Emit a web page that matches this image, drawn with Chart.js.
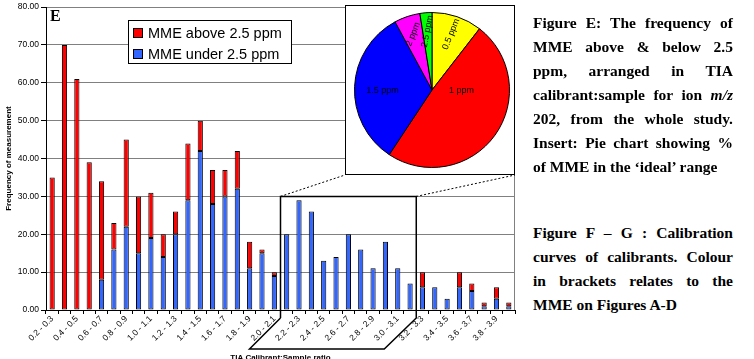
<!DOCTYPE html>
<html>
<head>
<meta charset="utf-8">
<script src="https://cdn.jsdelivr.net/npm/chart.js@4/dist/chart.umd.min.js"></script>
<style>
  body { margin: 0; background: #fff; overflow: hidden; }
  #wrap { position: relative; width: 754px; height: 359px; overflow: hidden; }
  #barChart { position: absolute; left: 0; top: 0; }
  #pieBox { position: absolute; left: 345px; top: 5px; width: 168px; height: 168px;
            border: 1.5px solid #000; background: #fff; }
  #legend { position: absolute; left: 128px; top: 20px; width: 162px; height: 42px;
            border: 1px solid #000; background: #fff; font: 14.5px "Liberation Sans", Arial, sans-serif; }
  .item { position: absolute; left: 4px; height: 20px; line-height: 20px; white-space: nowrap; }
  .item span { display: inline-block; width: 8px; height: 8px; border: 1px solid #000;
               margin-right: 5px; vertical-align: 0px; }
  #letter { position: absolute; left: 50px; top: 7px; font: bold 16px "Liberation Serif", serif; }
  .caption { position: absolute; left: 533px; width: 200px; font: bold 15.5px/24px "Liberation Serif", serif;
             text-align: justify; text-align-last: left; color: #000; }
</style>
</head>
<body>
<div id="wrap">
  <canvas id="barChart" width="520" height="363"></canvas>
  <div id="letter">E</div>
  <div id="legend"></div>
  <div id="pieBox"><canvas id="pieChart" width="168" height="168"></canvas></div>
  <div class="caption" style="top:11px;">Figure E: The frequency of MME above &amp; below 2.5 ppm, arranged in TIA calibrant:sample for ion <i>m/z</i> 202, from the whole study. Insert: Pie chart showing % of MME in the ‘ideal’ range</div>
  <div class="caption" style="top:221px;">Figure F – G : Calibration curves of calibrants. Colour in brackets relates to the MME on Figures A-D</div>
</div>
<script>
const ratios = [
  "0.2 - 0.3", "0.3 - 0.4", "0.4 - 0.5", "0.5 - 0.6", "0.6 - 0.7", "0.7 - 0.8", "0.8 - 0.9", "0.9 - 1.0",
  "1.0 - 1.1", "1.1 - 1.2", "1.2 - 1.3", "1.3 - 1.4", "1.4 - 1.5", "1.5 - 1.6", "1.6 - 1.7", "1.7 - 1.8",
  "1.8 - 1.9", "1.9 - 2.0", "2.0 - 2.1", "2.1 - 2.2", "2.2 - 2.3", "2.3 - 2.4", "2.4 - 2.5", "2.5 - 2.6",
  "2.6 - 2.7", "2.7 - 2.8", "2.8 - 2.9", "2.9 - 3.0", "3.0 - 3.1", "3.1 - 3.2", "3.2 - 3.3", "3.3 - 3.4",
  "3.4 - 3.5", "3.5 - 3.6", "3.6 - 3.7", "3.7 - 3.8", "3.8 - 3.9", "3.9 - 4.0"
];
const underValues = [0, 0, 0, 0, 8, 16, 22, 15, 19, 14, 20, 29, 42, 28, 30, 32, 11, 15, 9, 20,
  29, 26, 13, 14, 20, 16, 11, 18, 11, 7, 6, 6, 3, 6, 5, 1, 3, 1];
const aboveValues = [35, 70, 61, 39, 26, 7, 23, 15, 12, 6, 6, 15, 8, 9, 7, 10, 7, 1, 1, 0,
  0, 0, 0, 0, 0, 0, 0, 0, 0, 0, 4, 0, 0, 4, 2, 1, 3, 1];
const yTicks = [0, 10, 20, 30, 40, 50, 60, 70, 80];

// highlighted range that the pie insert refers to
const zoomFrom = "2.1 - 2.2";
const zoomTo = "3.1 - 3.2";
const zoomTop = 30;

const pieLabels = ["0.5 ppm", "1 ppm", "1.5 ppm", "2 ppm", "2.5 ppm"];
const pieValues = [10.5, 48.8, 32.8, 5.4, 2.5];
const pieColors = ["#ffff00", "#ff0000", "#0000ff", "#ff00ff", "#00ff00"];

// legend
const legendItems = [
  { label: "MME above 2.5 ppm", color: "#ff0000" },
  { label: "MME under 2.5 ppm", color: "#3366ff" },
];
document.getElementById("legend").innerHTML = legendItems.map((it, i) =>
  `<div class="item" style="top:${2 + i * 21}px"><span style="background:${it.color}"></span>${it.label}</div>`
).join("");

const boxPlugin = {
  id: "zoomBox",
  afterDatasetsDraw(chart) {
    const ctx = chart.ctx, x = chart.scales.x, y = chart.scales.y, area = chart.chartArea;
    // plot border right
    ctx.save();
    ctx.strokeStyle = "#808080";
    ctx.lineWidth = 1;
    ctx.beginPath();
    ctx.moveTo(area.right - 0.5, area.top);
    ctx.lineTo(area.right - 0.5, area.bottom);
    ctx.stroke();

    const l = x.getPixelForValue(ratios.indexOf(zoomFrom) - 0.5);
    const r = x.getPixelForValue(ratios.indexOf(zoomTo) + 0.5);
    const t = y.getPixelForValue(zoomTop);
    const b = area.bottom + 8;
    const b2 = area.bottom + 39;
    ctx.strokeStyle = "#000";
    ctx.lineWidth = 1.5;
    ctx.beginPath();
    ctx.moveTo(l, b);
    ctx.lineTo(l, t);
    ctx.lineTo(r, t);
    ctx.lineTo(r, b);
    ctx.lineTo(r - 32, b2);
    ctx.lineTo(l - 31, b2);
    ctx.lineTo(l, b);
    ctx.stroke();

    // dotted connectors to the pie insert
    const pb = document.getElementById("pieBox");
    const pl = pb.offsetLeft, pr = pb.offsetLeft + pb.offsetWidth, pbt = pb.offsetTop + pb.offsetHeight;
    ctx.setLineDash([2, 2]);
    ctx.lineWidth = 1;
    ctx.beginPath();
    ctx.moveTo(l, t);
    ctx.lineTo(pl, pbt);
    ctx.moveTo(r, t);
    ctx.lineTo(pr, pbt);
    ctx.stroke();
    ctx.restore();
  },
};

new Chart(document.getElementById("barChart"), {
  type: "bar",
  data: {
    labels: ratios,
    datasets: [
      {
        label: "MME under 2.5 ppm",
        data: underValues,
        backgroundColor: "#3366ff",
        borderColor: "#000",
        borderWidth: 1,
        borderSkipped: false,
        barPercentage: 0.42,
        categoryPercentage: 1,
      },
      {
        label: "MME above 2.5 ppm",
        data: aboveValues,
        backgroundColor: "#ff0000",
        borderColor: "#000",
        borderWidth: 1,
        borderSkipped: false,
        barPercentage: 0.42,
        categoryPercentage: 1,
      },
    ],
  },
  options: {
    responsive: false,
    animation: false,
    layout: { padding: { top: 6, right: 5, left: 0, bottom: 0 } },
    plugins: { legend: { display: false }, tooltip: { enabled: false } },
    scales: {
      x: {
        stacked: true,
        afterFit: (s) => { s.height = 53; },
        grid: { drawOnChartArea: false, offset: true, tickLength: 4, tickColor: "#000" },
        border: { color: "#000", width: 1 },
        ticks: {
          autoSkip: false,
          maxRotation: 45,
          minRotation: 45,
          padding: 0,
          color: "#000",
          font: { family: "Liberation Sans", size: 8.5 },
          callback: (v, i) => (i % 2 === 0 ? ratios[i] : ""),
        },
        title: {
          display: true,
          text: "TIA Calibrant:Sample ratio",
          color: "#000",
          padding: { top: 0, bottom: 0 },
          font: { family: "Liberation Sans", size: 8, weight: "bold" },
        },
      },
      y: {
        stacked: true,
        min: 0,
        max: 80,
        afterFit: (s) => { s.width = 46; },
        afterBuildTicks: (s) => { s.ticks = yTicks.map((v) => ({ value: v })); },
        grid: { color: "#808080", tickLength: 5, tickColor: "#000" },
        border: { color: "#000", width: 1 },
        ticks: {
          padding: 2,
          color: "#000",
          font: { family: "Liberation Sans", size: 8.5 },
          callback: (v) => v.toFixed(2),
        },
        title: {
          display: true,
          text: "Frequency of measurement",
          color: "#000",
          padding: { top: 4, bottom: 0 },
          font: { family: "Liberation Sans", size: 8, weight: "bold" },
        },
      },
    },
  },
  plugins: [boxPlugin],
});

const pieLabelPlugin = {
  id: "pieLabels",
  afterDatasetsDraw(chart) {
    const ctx = chart.ctx;
    const arcs = chart.getDatasetMeta(0).data;
    const total = pieValues.reduce((a, b) => a + b, 0);
    ctx.save();
    ctx.fillStyle = "#000";
    ctx.font = "9px 'Liberation Sans', Arial";
    ctx.textAlign = "center";
    ctx.textBaseline = "middle";
    arcs.forEach((arc, i) => {
      const cx = arc.x, cy = arc.y, R = arc.outerRadius;
      const mid = (arc.startAngle + arc.endAngle) / 2;
      const share = pieValues[i] / total;
      let px, py, rot = 0;
      if (share > 0.25) {
        // large slices: horizontal label level with the centre
        const side = Math.cos(mid) >= 0 ? 1 : -1;
        px = cx + side * R * (side > 0 ? 0.38 : 0.64);
        py = cy + 1;
      } else {
        // thin slices: text runs upward, tilted a little to the right
        px = cx + Math.cos(mid) * R * 0.76;
        py = cy + Math.sin(mid) * R * 0.76;
        rot = -(90 - 22 * Math.min(1, share / 0.05)) * Math.PI / 180;
      }
      ctx.save();
      ctx.translate(px, py);
      ctx.rotate(rot);
      ctx.fillText(pieLabels[i], 0, 0);
      ctx.restore();
    });
    ctx.restore();
  },
};

new Chart(document.getElementById("pieChart"), {
  type: "pie",
  data: {
    labels: pieLabels,
    datasets: [
      {
        data: pieValues,
        backgroundColor: pieColors,
        borderColor: "#000",
        borderWidth: 1,
      },
    ],
  },
  options: {
    responsive: false,
    animation: false,
    layout: { padding: { top: 6, bottom: 6, left: 8, right: 4 } },
    plugins: { legend: { display: false }, tooltip: { enabled: false } },
  },
  plugins: [pieLabelPlugin],
});
</script>
</body>
</html>
